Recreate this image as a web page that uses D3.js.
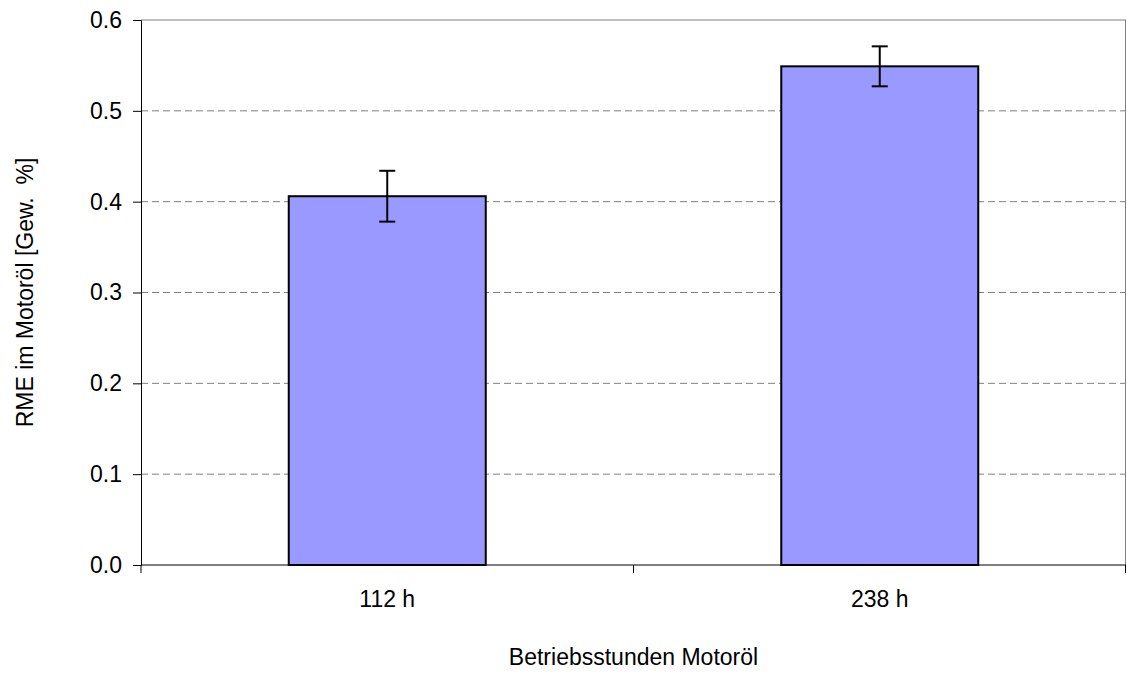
<!DOCTYPE html>
<html>
<head>
<meta charset="utf-8">
<script src="https://cdn.jsdelivr.net/npm/d3@7"></script>
<style>
  body { margin: 0; background: #fff; }
  text { font-family: "Liberation Sans", Arial, sans-serif; fill: #000; white-space: pre; }
</style>
</head>
<body>
<svg id="chart" width="1127" height="673"></svg>
<script>
const categories = ["112 h", "238 h"];
const values = [0.406, 0.549];
const errors = [0.028, 0.022];
const yTicks = [0, 0.1, 0.2, 0.3, 0.4, 0.5, 0.6];

const margin = { left: 141, right: 1, top: 20, bottom: 108 };
const W = 1127, H = 673;
const FS = "23px";
const svg = d3.select("#chart");

const x = d3.scaleBand()
    .domain(categories)
    .range([margin.left, W - margin.right])
    .paddingInner(0)
    .paddingOuter(0);
const barW = x.bandwidth() / 2.5;

const y = d3.scaleLinear()
    .domain([0, 0.6])
    .range([H - margin.bottom, margin.top]);

// grid
svg.append("g").selectAll("line")
    .data(yTicks.filter(d => d > 0))
    .join("line")
    .attr("x1", margin.left)
    .attr("x2", W - margin.right)
    .attr("y1", d => y(d))
    .attr("y2", d => y(d))
    .attr("stroke", "#808080")
    .attr("stroke-width", 1)
    .attr("stroke-dasharray", d => d === 0.6 ? null : "7,4");

// right border
svg.append("line")
    .attr("x1", W - margin.right - 0.5).attr("x2", W - margin.right - 0.5)
    .attr("y1", y(0.6)).attr("y2", y(0))
    .attr("stroke", "#808080");

// bars
svg.append("g").selectAll("rect")
    .data(values)
    .join("rect")
    .attr("x", (d, i) => x(categories[i]) + (x.bandwidth() - barW) / 2)
    .attr("y", d => y(d))
    .attr("width", barW)
    .attr("height", d => y(0) - y(d))
    .attr("fill", "#9999ff")
    .attr("stroke", "#000")
    .attr("stroke-width", 2);

// error bars
const eb = svg.append("g").attr("stroke", "#000").attr("stroke-width", 2);
values.forEach(function (v, i) {
    const cx = x(categories[i]) + x.bandwidth() / 2;
    eb.append("line").attr("x1", cx).attr("x2", cx)
        .attr("y1", y(v + errors[i])).attr("y2", y(v - errors[i]));
    eb.append("line").attr("x1", cx - 8).attr("x2", cx + 8)
        .attr("y1", y(v + errors[i])).attr("y2", y(v + errors[i]));
    eb.append("line").attr("x1", cx - 8).attr("x2", cx + 8)
        .attr("y1", y(v - errors[i])).attr("y2", y(v - errors[i]));
});

// y axis
const yAxis = svg.append("g")
    .attr("transform", "translate(" + margin.left + ",0)")
    .call(d3.axisLeft(y).tickValues(yTicks).tickFormat(d3.format(".1f")).tickSize(8).tickPadding(11));
yAxis.select(".domain").attr("stroke", "#000");
yAxis.selectAll("text").attr("font-size", FS).attr("font-family", "Liberation Sans, Arial, sans-serif");

// x axis
const xTickPos = [margin.left, x(categories[1]), W - margin.right - 0.5];
const xAxis = svg.append("g");
xAxis.append("line")
    .attr("x1", margin.left).attr("x2", W - margin.right)
    .attr("y1", y(0)).attr("y2", y(0))
    .attr("stroke", "#000");
xAxis.selectAll("line.tick")
    .data(xTickPos)
    .join("line")
    .attr("class", "tick")
    .attr("x1", d => d).attr("x2", d => d)
    .attr("y1", y(0)).attr("y2", y(0) + 8)
    .attr("stroke", "#000");
xAxis.selectAll("text")
    .data(categories)
    .join("text")
    .attr("x", d => x(d) + x.bandwidth() / 2)
    .attr("y", 607)
    .attr("text-anchor", "middle")
    .attr("font-size", FS)
    .text(d => d);

// titles
svg.append("text")
    .attr("x", (margin.left + W - margin.right) / 2)
    .attr("y", 665)
    .attr("text-anchor", "middle")
    .attr("font-size", FS)
    .text("Betriebsstunden Motoröl");

svg.append("text")
    .attr("transform", "translate(33," + ((y(0) + y(0.6)) / 2) + ") rotate(-90)")
    .attr("text-anchor", "middle")
    .attr("font-size", FS)
    .text("RME im Motoröl [Gew.  %]");
</script>
</body>
</html>
